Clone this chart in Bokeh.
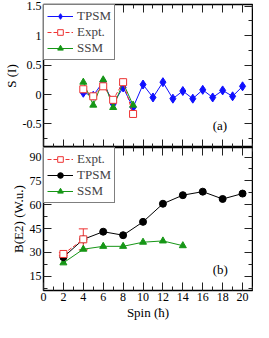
from bokeh.plotting import figure
from bokeh.models import (Range1d, LinearAxis, SingleIntervalTicker, NumeralTickFormatter,
                          Legend, LegendItem, Whisker, TeeHead, ColumnDataSource, Label)
from bokeh.layouts import column
from bokeh.embed import file_html
from bokeh.resources import INLINE

# ---- panel (a): S(I) ----
spin_tpsm_s = list(range(4, 21))
s_tpsm = [0.03, -0.02, 0.22, -0.16, 0.12, -0.22, 0.17, -0.05, 0.21, -0.07,
          0.06, -0.07, 0.08, -0.05, 0.07, -0.03, 0.14]
spin_exp_s = [4, 5, 6, 7, 8, 9]
s_exp = [0.09, -0.03, 0.14, -0.09, 0.21, -0.33]
spin_ssm_s = [4, 5, 6, 7, 8, 9]
s_ssm = [0.21, -0.18, 0.25, -0.22, 0.20, -0.18]

# ---- panel (b): B(E2) ----
spin_tpsm_b = [2, 4, 6, 8, 10, 12, 14, 16, 18, 20]
be2_tpsm = [27.0, 38.2, 43.0, 40.8, 49.2, 60.6, 66.0, 68.2, 63.6, 67.0]
spin_exp_b = [2, 4]
be2_exp = [29.0, 38.2]
be2_exp_lo = [28.2, 31.6]
be2_exp_hi = [29.8, 44.8]
spin_ssm_b = [2, 4, 6, 8, 10, 12, 14]
be2_ssm = [23.4, 32.0, 33.8, 33.8, 36.4, 37.2, 34.2]

FONT = "'Times New Roman', 'Liberation Serif', serif"
BLUE = "#1010ff"
RED = "#ee3333"
GREEN = "#169616"
W = 253


def style_axis(ax, labels=True):
    ax.axis_line_color = None
    ax.major_tick_in = 8
    ax.major_tick_out = 0
    ax.minor_tick_in = 4
    ax.minor_tick_out = 0
    ax.major_tick_line_color = "#222222"
    ax.minor_tick_line_color = "#222222"
    ax.major_label_text_font = FONT
    ax.axis_label_text_font = FONT
    ax.axis_label_text_font_size = "13px"
    ax.axis_label_text_font_style = "normal"
    ax.axis_label_text_color = "black"
    ax.axis_label_standoff = 1
    if labels:
        ax.major_label_text_color = "black"
        ax.major_label_text_font_size = "12px"
        ax.major_label_standoff = 2
    else:
        ax.major_label_text_color = None
        ax.major_label_text_font_size = "1px"
        ax.major_label_standoff = 0


def base_fig(height, yr, ytick, top_border, bottom_border, xlabels):
    p = figure(width=W, height=height, x_range=Range1d(0, 21), y_range=yr,
               output_backend="svg", toolbar_location=None,
               min_border_left=36, min_border_right=1,
               min_border_top=top_border, min_border_bottom=bottom_border)
    p.grid.visible = False
    p.outline_line_color = "black"
    p.outline_line_width = 1.5
    bx = p.below[0]
    ly = p.left[0]
    bx.ticker = SingleIntervalTicker(interval=2, num_minor_ticks=2)
    ly.ticker = SingleIntervalTicker(interval=ytick, num_minor_ticks=2)
    style_axis(bx, xlabels)
    style_axis(ly, True)
    ax_top = LinearAxis(ticker=SingleIntervalTicker(interval=2, num_minor_ticks=2))
    ax_right = LinearAxis(ticker=SingleIntervalTicker(interval=ytick, num_minor_ticks=2))
    style_axis(ax_top, False)
    style_axis(ax_right, False)
    p.add_layout(ax_top, "above")
    p.add_layout(ax_right, "right")
    return p, bx, ly


def make_legend(items):
    lg = Legend(items=items, location="top_left", margin=0, padding=3, spacing=0,
                glyph_width=26, glyph_height=14, label_height=14, label_standoff=4,
                label_text_font=FONT, label_text_font_size="13px",
                border_line_color="black", border_line_width=1,
                background_fill_alpha=1.0)
    return lg


# ---- top panel ----
p1, bx1, ly1 = base_fig(147, Range1d(-0.9, 1.53), 0.5, 4, 0, False)
ly1.formatter = NumeralTickFormatter(format="0.[0]")
ly1.axis_label = "S (I)"

l_t = p1.line(spin_tpsm_s, s_tpsm, line_color=BLUE, line_width=1)
m_t = p1.scatter(spin_tpsm_s, s_tpsm, marker="diamond", size=9, color=BLUE)
l_s = p1.line(spin_ssm_s, s_ssm, line_color=GREEN, line_width=1)
m_s = p1.scatter(spin_ssm_s, s_ssm, marker="triangle", size=7, color=GREEN)
l_e = p1.line(spin_exp_s, s_exp, line_color=RED, line_width=1, line_dash="4 2")
m_e = p1.scatter(spin_exp_s, s_exp, marker="square", size=7, line_color=RED,
                 fill_color="white", line_width=1)

p1.add_layout(make_legend([
    LegendItem(label="TPSM", renderers=[l_t, m_t]),
    LegendItem(label="Expt.", renderers=[l_e, m_e]),
    LegendItem(label="SSM", renderers=[l_s, m_s]),
]))
p1.add_layout(Label(x=17.0, y=-0.53, text="(a)", text_font=FONT, text_font_size="13px",
                    text_baseline="middle", text_align="left", text_color="black"))

# ---- bottom panel ----
p2, bx2, ly2 = base_fig(175, Range1d(6, 96), 15, 0, 32, True)
bx2.axis_label = "Spin (ħ)"
ly2.axis_label = "B(E2) (W.u.)"

src_err = ColumnDataSource(data=dict(x=spin_exp_b, lo=be2_exp_lo, hi=be2_exp_hi))
p2.add_layout(Whisker(source=src_err, base="x", lower="lo", upper="hi",
                      line_color=RED, line_width=1,
                      upper_head=TeeHead(size=9, line_color=RED, line_width=1),
                      lower_head=TeeHead(size=9, line_color=RED, line_width=1)))

l2_s = p2.line(spin_ssm_b, be2_ssm, line_color=GREEN, line_width=1)
m2_s = p2.scatter(spin_ssm_b, be2_ssm, marker="triangle", size=7, color=GREEN)
l2_t = p2.line(spin_tpsm_b, be2_tpsm, line_color="black", line_width=1)
m2_t = p2.scatter(spin_tpsm_b, be2_tpsm, marker="circle", size=7, color="black")
l2_e = p2.line(spin_exp_b, be2_exp, line_color=RED, line_width=1, line_dash="4 2")
m2_e = p2.scatter(spin_exp_b, be2_exp, marker="square", size=7, line_color=RED,
                  fill_color="white", line_width=1)

p2.add_layout(make_legend([
    LegendItem(label="Expt.", renderers=[l2_e, m2_e]),
    LegendItem(label="TPSM", renderers=[l2_t, m2_t]),
    LegendItem(label="SSM", renderers=[l2_s, m2_s]),
]))
p2.add_layout(Label(x=17.0, y=19.0, text="(b)", text_font=FONT, text_font_size="13px",
                    text_baseline="middle", text_align="left", text_color="black"))

layout = column(p1, p2, spacing=0)
open("out.html", "w").write(file_html(layout, INLINE))
